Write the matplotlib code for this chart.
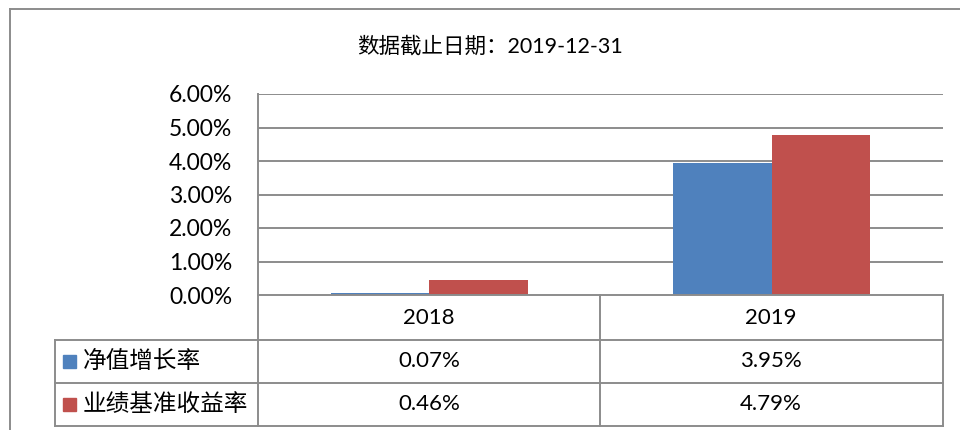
import numpy as np
import matplotlib.pyplot as plt
from matplotlib.lines import Line2D
from matplotlib.patches import Rectangle

plt.rcParams['font.family'] = ['Lato', 'Noto Sans CJK SC', 'DejaVu Sans']

years = ['2018', '2019']
series_names = ['净值增长率', '业绩基准收益率']
jingzhi = [0.07, 3.95]     # %
jizhun = [0.46, 4.79]      # %
colors = ['#4F81BD', '#C0504D']
yticks = [0, 1, 2, 3, 4, 5, 6]

W, H = 960, 430
gray = '#8C8C8C'

def fx(px):
    return px / W

def fy(py):
    return 1 - py / H

fig = plt.figure(figsize=(W / 100, H / 100), dpi=100)

# plot area
ax = fig.add_axes([fx(258), fy(295), fx(943) - fx(258), fy(94) - fy(295)])
x = np.arange(len(years))
w = 0.287
ax.bar(x - w / 2, jingzhi, w, color=colors[0], zorder=3)
ax.bar(x + w / 2, jizhun, w, color=colors[1], zorder=3)
ax.set_xlim(-0.5, 1.5)
ax.set_ylim(0, 6)
ax.set_yticks(yticks)
ax.set_yticklabels(['%.2f%%' % v for v in yticks], fontsize=16.5)
ax.set_xticks([])
ax.tick_params(axis='y', length=0, pad=18.5)
for v in yticks[1:]:
    ax.axhline(v, color=gray, lw=1.4, zorder=1)
for s in ['top', 'right', 'bottom']:
    ax.spines[s].set_visible(False)
ax.spines['left'].set_color(gray)
ax.spines['left'].set_linewidth(1.4)
ax.axhline(0, color=gray, lw=1.4, zorder=4, clip_on=False)

def hline(y, x0, x1):
    fig.add_artist(Line2D([fx(x0), fx(x1)], [fy(y), fy(y)], color=gray, lw=1.4))

def vline(xp, y0, y1):
    fig.add_artist(Line2D([fx(xp), fx(xp)], [fy(y0), fy(y1)], color=gray, lw=1.4))

# outer frame
hline(9, 10, 960)
vline(10, 9, 430)

# data table
for yy in [340, 383, 426]:
    hline(yy, 55, 943)
vline(55, 340, 426)
vline(258, 295, 426)
vline(600, 295, 426)
vline(943, 295, 426)

col_x = [429, 771]
for cx, yr in zip(col_x, years):
    fig.text(fx(cx), fy(318), yr, ha='center', va='center', fontsize=16)
rows = [jingzhi, jizhun]
row_y = [361, 404]
for ry, name, vals, c in zip(row_y, series_names, rows, colors):
    fig.add_artist(Rectangle((fx(63), fy(ry + 7)), fx(13), fy(ry - 6) - fy(ry + 7),
                             color=c, transform=fig.transFigure))
    fig.text(fx(83), fy(ry), name, ha='left', va='center', fontsize=17)
    for cx, v in zip(col_x, vals):
        fig.text(fx(cx), fy(ry), '%.2f%%' % v, ha='center', va='center', fontsize=16)

fig.text(fx(490), fy(46), '数据截止日期：2019-12-31', ha='center', va='center', fontsize=15.5)

fig.savefig('out.png', dpi=100)
